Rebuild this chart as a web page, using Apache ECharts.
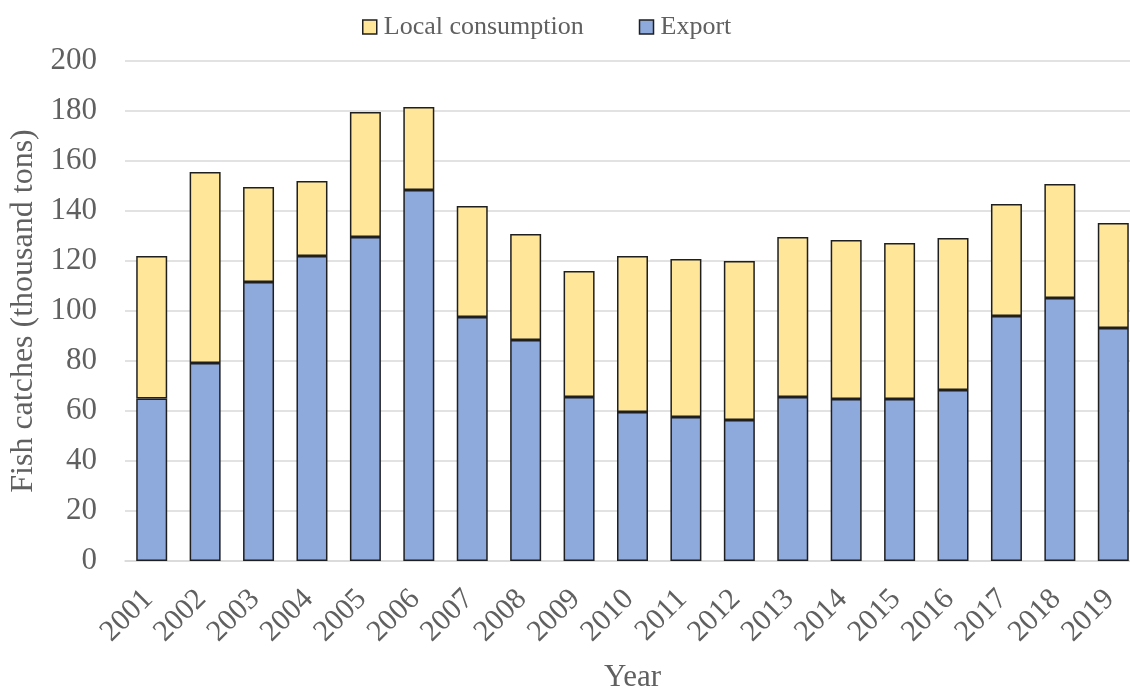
<!DOCTYPE html>
<html>
<head>
<meta charset="utf-8">
<script src="https://cdn.jsdelivr.net/npm/echarts@6/dist/echarts.min.js"></script>
<style>
  html, body { margin: 0; padding: 0; background: #fff; }
  #chart { width: 1130px; height: 691px; }
</style>
</head>
<body>
<div id="chart"></div>
<script>
// Annual fish catches, thousand tons
const years = ['2001','2002','2003','2004','2005','2006','2007','2008','2009','2010',
               '2011','2012','2013','2014','2015','2016','2017','2018','2019'];
const exportVals = [65, 79.2, 111.6, 122, 129.6, 148.4, 97.6, 88.4, 65.6, 59.6,
                    57.6, 56.4, 65.6, 64.8, 64.8, 68.4, 98, 105.2, 93.2];
const localVals  = [57, 76.4, 38, 30, 50, 33.2, 44.4, 42.4, 50.4, 62.4,
                    63.2, 63.6, 64, 63.6, 62.4, 60.8, 44.8, 45.6, 42];
const yTicks = { min: 0, max: 200, interval: 20 };

const FONT = '"Liberation Serif", "Times New Roman", serif';
const TEXT = '#606060';
const GRID = '#d9d9d9';

const chart = echarts.init(document.getElementById('chart'));
chart.setOption({
  animation: false,
  textStyle: { fontFamily: FONT },
  legend: {
    top: 9,
    left: 357,
    itemGap: 55,
    itemWidth: 14,
    itemHeight: 14,
    icon: 'rect',
    textStyle: { fontFamily: FONT, fontSize: 26, color: TEXT, padding: [0, 0, 0, 2] },
    itemStyle: { borderColor: '#1f1f1f', borderWidth: 1.5 },
    data: ['Local consumption', 'Export']
  },
  grid: { left: 125, top: 61, height: 500, width: 1015, outerBoundsMode: 'none', containLabel: false },
  xAxis: {
    type: 'category',
    data: years,
    name: 'Year',
    nameLocation: 'middle',
    nameGap: 101,
    nameTextStyle: { fontFamily: FONT, fontSize: 31, color: TEXT },
    axisLine: { lineStyle: { color: GRID, width: 1.5 } },
    axisTick: { show: false },
    axisLabel: { rotate: 45, margin: 30, padding: [0, 5, 0, 0], fontFamily: FONT, fontSize: 30, color: TEXT, interval: 0 }
  },
  yAxis: {
    type: 'value',
    min: yTicks.min,
    max: yTicks.max,
    interval: yTicks.interval,
    name: 'Fish catches (thousand tons)',
    nameLocation: 'middle',
    nameGap: 82,
    nameTextStyle: { fontFamily: FONT, fontSize: 32, color: TEXT },
    axisLine: { show: false },
    axisTick: { show: false },
    axisLabel: { margin: 28, fontFamily: FONT, fontSize: 31, color: TEXT },
    splitLine: { lineStyle: { color: GRID, width: 1.5 } }
  },
  series: [
    {
      name: 'Export',
      type: 'bar',
      stack: 'total',
      barWidth: '58%',
      data: exportVals,
      itemStyle: { color: '#8ea9db', borderColor: '#1f1f1f', borderWidth: 1.5 }
    },
    {
      name: 'Local consumption',
      type: 'bar',
      stack: 'total',
      barWidth: '58%',
      data: localVals,
      itemStyle: { color: '#ffe699', borderColor: '#1f1f1f', borderWidth: 1.5 }
    }
  ]
});
</script>
</body>
</html>
